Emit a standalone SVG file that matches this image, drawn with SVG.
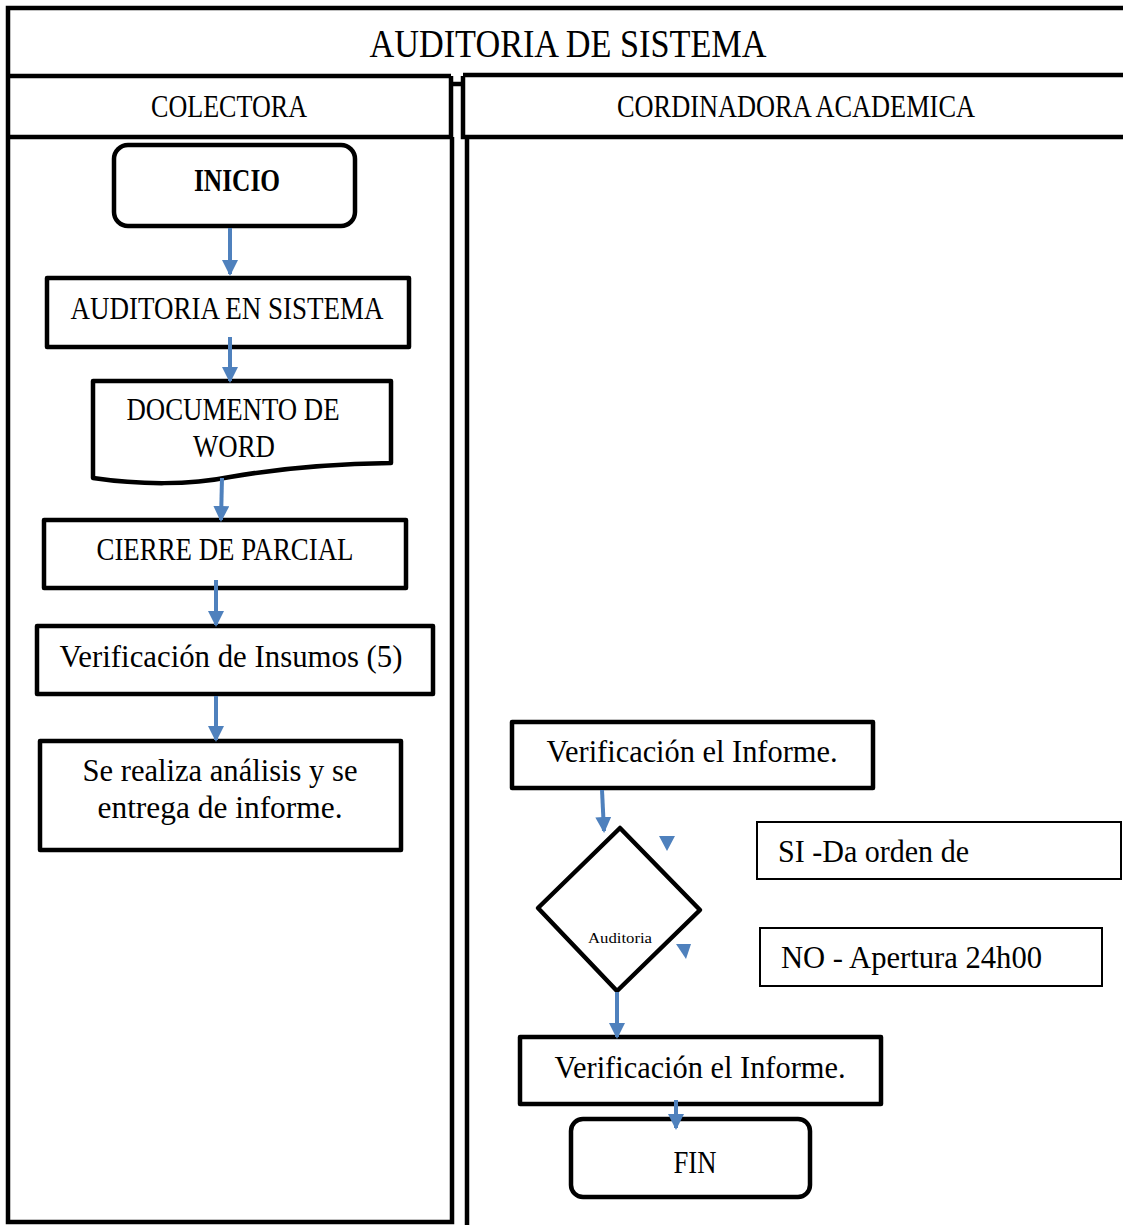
<svg xmlns="http://www.w3.org/2000/svg" width="1123" height="1225" viewBox="0 0 1123 1225">
<style>
.frame{fill:none;stroke:#000;stroke-width:4.5}
.box{fill:#fff;stroke:#000;stroke-width:4.5;stroke-linejoin:round}
.thin{fill:#fff;stroke:#000;stroke-width:2}
.t{font-family:"Liberation Serif","Times New Roman",serif;font-size:31px;fill:#000;text-anchor:middle}
.tl{font-family:"Liberation Serif","Times New Roman",serif;font-size:31px;fill:#000}
.b{font-weight:bold}
.title{font-size:40px}
.small{font-size:15px}
.conn{stroke:#4F81BD;stroke-width:4;fill:none}
.tri{fill:#4F81BD}
</style>
<defs>
<marker id="ah" markerUnits="userSpaceOnUse" markerWidth="16" markerHeight="16" refX="14" refY="8" orient="auto">
<path d="M0,0 L16,8 L0,16 Z" fill="#4F81BD"/>
</marker>
</defs>
<rect width="1123" height="1225" fill="#fff"/>
<g id="pool">
<path class="frame" d="M1125,8 H8 V1222 H452 V137 M8,76 H451 M463,75 H1125 M451,76 V137 M8,137 H451 M463,76 V137 H1125 M451,84 H463 M467,137 V1227"/>
<text class="t title" x="568" y="57" textLength="397" lengthAdjust="spacingAndGlyphs">AUDITORIA DE SISTEMA</text>
</g>
<g id="lane-colectora">
<text class="t" x="229" y="117" textLength="156" lengthAdjust="spacingAndGlyphs">COLECTORA</text>
</g>
<g id="lane-cordinadora">
<text class="t" x="796" y="117" textLength="358" lengthAdjust="spacingAndGlyphs">CORDINADORA ACADEMICA</text>
</g>
<g id="n-inicio">
<rect class="box" x="114" y="145" width="241" height="81" rx="14"/>
<text class="t b" x="237" y="191" textLength="86" lengthAdjust="spacingAndGlyphs">INICIO</text>
</g>
<g id="n-auditoria-sistema">
<rect class="box" x="47" y="278" width="362" height="69"/>
<text class="t" x="227" y="319" textLength="313" lengthAdjust="spacingAndGlyphs">AUDITORIA EN SISTEMA</text>
</g>
<g id="n-documento">
<path class="box" d="M93,381 H391 V463 C320,464 270,470 230,477 C190,485 140,485 93,478 Z"/>
<text class="t" x="233" y="420" textLength="213" lengthAdjust="spacingAndGlyphs">DOCUMENTO DE</text>
<text class="t" x="234" y="457" textLength="82" lengthAdjust="spacingAndGlyphs">WORD</text>
</g>
<g id="n-cierre">
<rect class="box" x="44" y="520" width="362" height="68"/>
<text class="t" x="225" y="560" textLength="257" lengthAdjust="spacingAndGlyphs">CIERRE DE PARCIAL</text>
</g>
<g id="n-insumos">
<rect class="box" x="37" y="626" width="396" height="68"/>
<text class="t" x="231" y="667" textLength="343" lengthAdjust="spacingAndGlyphs">Verificación de Insumos (5)</text>
</g>
<g id="n-analisis">
<rect class="box" x="40" y="741" width="361" height="109"/>
<text class="t" x="220" y="781" textLength="275" lengthAdjust="spacingAndGlyphs">Se realiza análisis y se</text>
<text class="t" x="220" y="818" textLength="245" lengthAdjust="spacingAndGlyphs">entrega de informe.</text>
</g>
<g id="n-verif1">
<rect class="box" x="512" y="722" width="361" height="66"/>
<text class="t" x="692" y="762" textLength="291" lengthAdjust="spacingAndGlyphs">Verificación el Informe.</text>
</g>
<g id="n-decision">
<path class="box" d="M620,828 L700,910 L617,991 L538,908 Z"/>
<text class="t small" x="620" y="943" textLength="64" lengthAdjust="spacingAndGlyphs">Auditoria</text>
</g>
<g id="n-si">
<rect class="thin" x="757" y="822" width="364" height="57"/>
<text class="tl" x="778" y="862" textLength="191" lengthAdjust="spacingAndGlyphs">SI -Da orden de</text>
</g>
<g id="n-no">
<rect class="thin" x="760" y="928" width="342" height="58"/>
<text class="tl" x="781" y="968" textLength="261" lengthAdjust="spacingAndGlyphs">NO - Apertura 24h00</text>
</g>
<g id="n-verif2">
<rect class="box" x="520" y="1037" width="361" height="67"/>
<text class="t" x="700" y="1078" textLength="291" lengthAdjust="spacingAndGlyphs">Verificación el Informe.</text>
</g>
<g id="n-fin">
<rect class="box" x="571" y="1119" width="239" height="78" rx="12"/>
<text class="t" x="695" y="1173" textLength="43" lengthAdjust="spacingAndGlyphs">FIN</text>
</g>
<g id="connectors">
<line class="conn" x1="230" y1="228" x2="230" y2="274" marker-end="url(#ah)"/>
<line class="conn" x1="230" y1="337" x2="230" y2="381" marker-end="url(#ah)"/>
<line class="conn" x1="222" y1="478" x2="221" y2="520" marker-end="url(#ah)"/>
<line class="conn" x1="216" y1="580" x2="216" y2="625" marker-end="url(#ah)"/>
<line class="conn" x1="216" y1="696" x2="216" y2="740" marker-end="url(#ah)"/>
<line class="conn" x1="602" y1="790" x2="604" y2="831" marker-end="url(#ah)"/>
<line class="conn" x1="617" y1="992" x2="617" y2="1037" marker-end="url(#ah)"/>
<line class="conn" x1="676" y1="1100" x2="676" y2="1128" marker-end="url(#ah)"/>
<path class="tri" d="M659,836 L675,836 L667,851 Z"/>
<path class="tri" d="M676,944 L691,944 L686,959 Z"/>
</g>
</svg>
